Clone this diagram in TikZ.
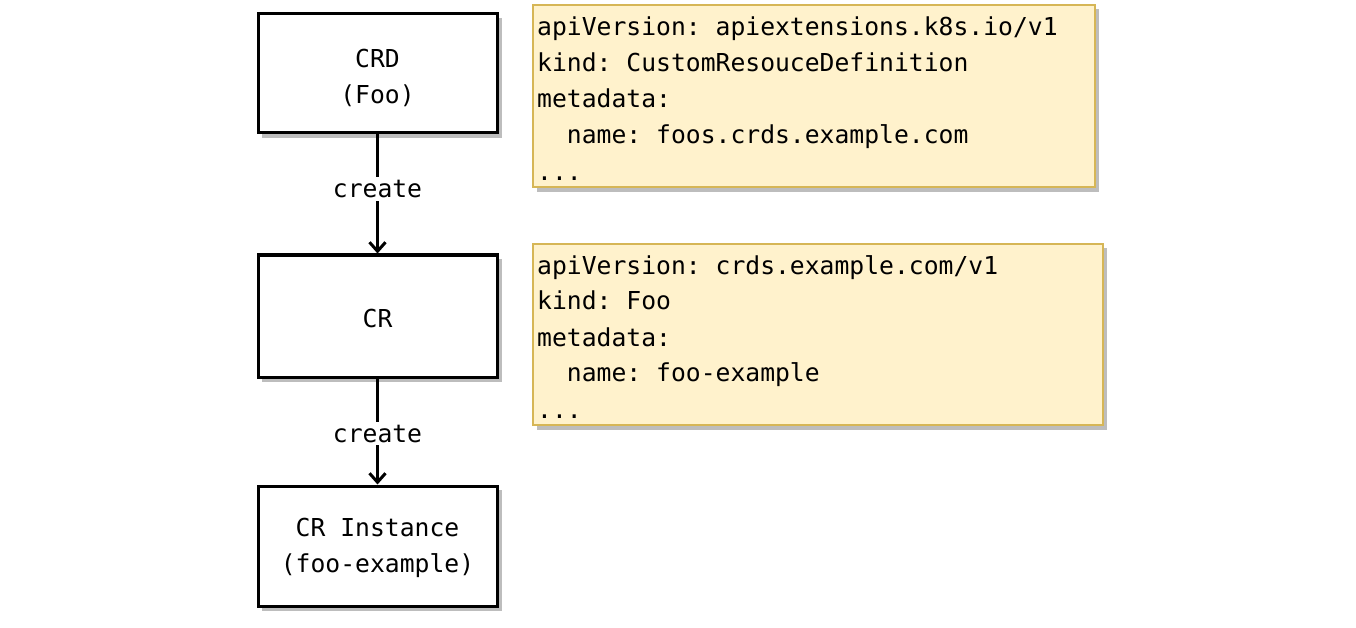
\documentclass[tikz,border=0pt]{standalone}
\usepackage{fontspec}
\setmonofont{DejaVu Sans Mono}
\usetikzlibrary{arrows.meta}
\definecolor{notefill}{HTML}{FFF2CC}
\definecolor{notedraw}{HTML}{D6B656}
\definecolor{shadowgray}{HTML}{BDBDBD}
\tikzset{
  every node/.style={font=\ttfamily\fontsize{24.7}{36}\selectfont},
  blockbox/.style={draw=black, line width=3pt, fill=white, minimum width=239pt, minimum height=120pt, inner sep=0pt},
  blocktext/.style={align=center, inner sep=0pt},
  notebox/.style={draw=notedraw, line width=1.5pt, fill=notefill},
  shade/.style={fill=shadowgray, draw=none},
  codeline/.style={anchor=west, inner sep=0pt, text height=18pt, text depth=5pt},
  flow/.style={line width=3pt, -{Straight Barb[length=9pt,width=16pt,line width=3pt]}},
  lbl/.style={fill=white, inner sep=3pt}
}
\begin{document}
\begin{tikzpicture}[x=1pt,y=-1pt]
\useasboundingbox (0,0) rectangle (1356,628);
% shadows
\fill[shade] (262,18) rectangle (502,138);
\fill[shade] (262,259) rectangle (502,382);
\fill[shade] (262,490) rectangle (502,611);
\fill[shade] (537,9) rectangle (1099,192);
\fill[shade] (537,248) rectangle (1107,430);
% blocks
\node[blockbox, minimum height=119pt] (crd) at (377.5,73.5) {};
\node[blocktext] (crdt) at ([yshift=-4.5pt]crd.center) {CRD\\(Foo)};
\node[blockbox, minimum height=122pt] (cr) at (377.5,316) {};
\node[blocktext] (crt) at ([yshift=-2.5pt]cr.center) {CR};
\node[blockbox, minimum height=120pt] (inst) at (377.5,546) {};
\node[blocktext] (instt) at ([yshift=-2pt]inst.center) {CR Instance\\(foo-example)};
% connectors
\draw[flow] (crd.south) -- node[lbl, pos=0.46] {create} (cr.north);
\draw[flow] (cr.south) -- node[lbl, pos=0.52] {create} (inst.north);
% notes
\draw[notebox] (533,5) rectangle (1095,187);
\node[codeline] (a1) at (537,29) {apiVersion: apiextensions.k8s.io/v1};
\node[codeline] (a2) at (537,65) {kind: CustomResouceDefinition};
\node[codeline] (a3) at (537,101) {metadata:};
\node[codeline] (a4) at (537,137) {\ \ name: foos.crds.example.com};
\node[codeline] (a5) at (537,174) {...};
\draw[notebox] (533,244) rectangle (1103,425);
\node[codeline] (b1) at (537,268) {apiVersion: crds.example.com/v1};
\node[codeline] (b2) at (537,303) {kind: Foo};
\node[codeline] (b3) at (537,340) {metadata:};
\node[codeline] (b4) at (537,375) {\ \ name: foo-example};
\node[codeline] (b5) at (537,412) {...};
\end{tikzpicture}
\end{document}
